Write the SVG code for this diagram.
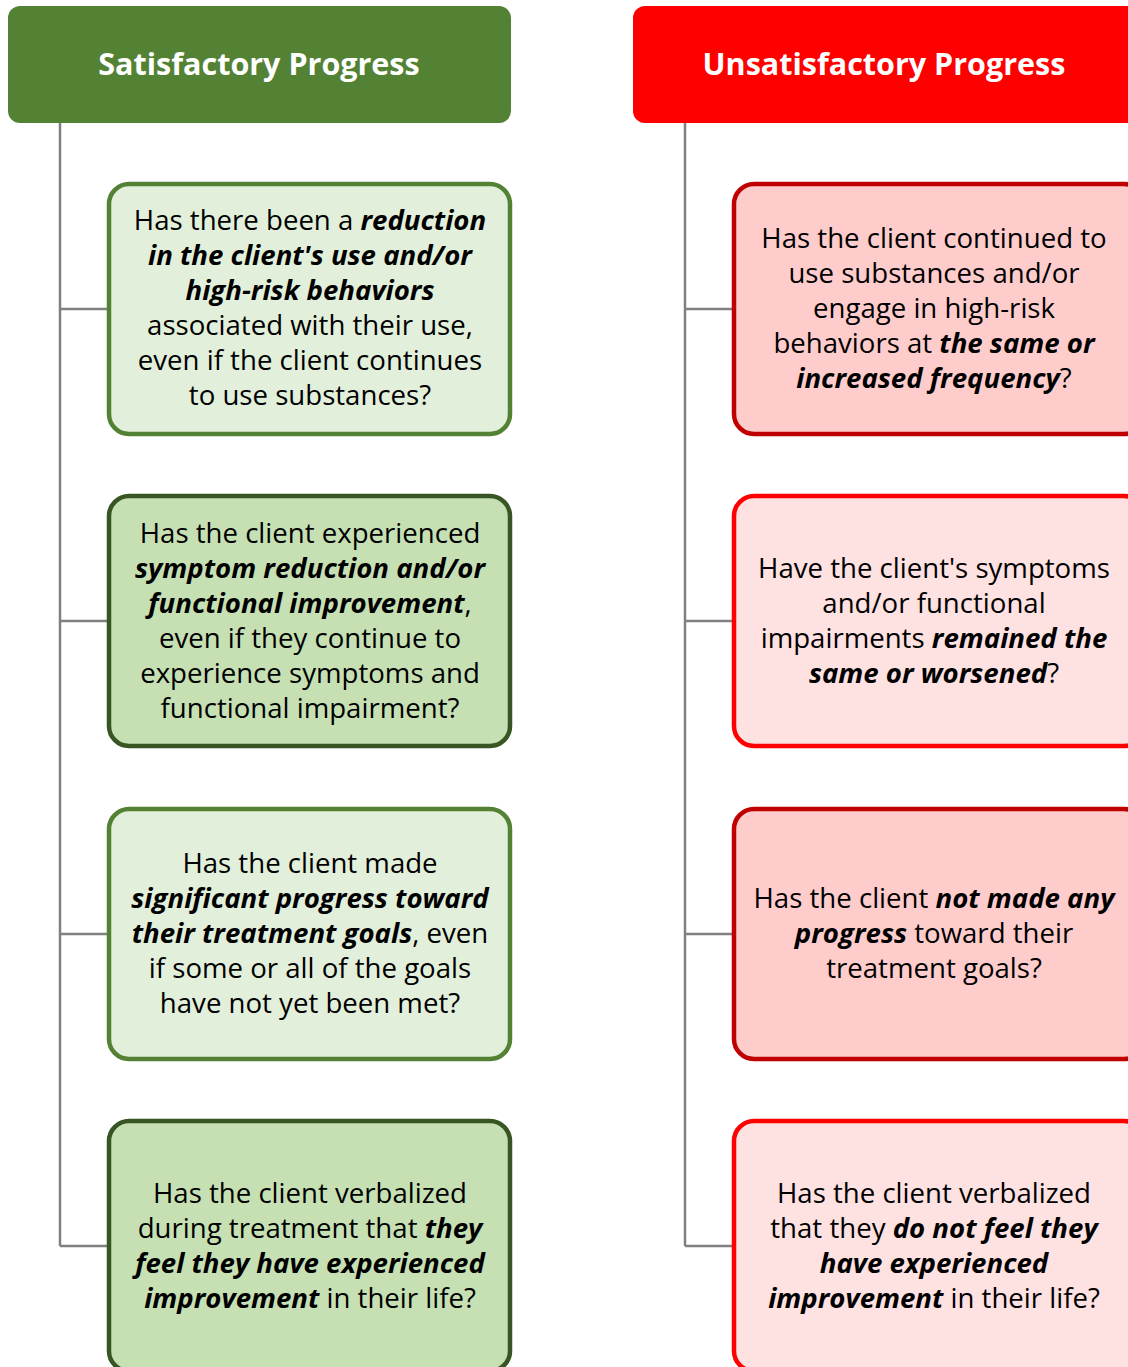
<svg xmlns="http://www.w3.org/2000/svg" width="1128" height="1367" viewBox="0 0 1128 1367">
<style>
.hdr{font-family:"Open Sans","Noto Sans","Liberation Sans",sans-serif;font-weight:bold;font-size:30.5px;fill:#fff;text-anchor:middle}
.t{font-family:"Open Sans","Noto Sans","Liberation Sans",sans-serif;font-size:27.6px;fill:#000;text-anchor:middle}
.b{font-weight:bold;font-style:italic}
.conn{stroke:#808080;stroke-width:2.5;fill:none}
.g1{fill:#E2EFDA;stroke:#548235;stroke-width:4.5}
.g2{fill:#C6E0B4;stroke:#375623;stroke-width:4.5}
.r1{fill:#FFCCCC;stroke:#C00000;stroke-width:4.5}
.r2{fill:#FEE1E1;stroke:#FF0000;stroke-width:4.5}
</style>
<rect width="1128" height="1367" fill="#fff"/>
<g id="connectors">
<path class="conn" d="M60,123 V1246 M60,309 H108 M60,621 H108 M60,934 H108 M60,1246 H108"/>
<path class="conn" d="M685,123 V1246 M685,309 H733 M685,621 H733 M685,934 H733 M685,1246 H733"/>
</g>
<g id="hdr-sat">
<rect x="8" y="6" width="503" height="117" rx="12" fill="#548235"/>
<text class="hdr" x="259" y="75">Satisfactory Progress</text>
</g>
<g id="hdr-unsat">
<rect x="633" y="6" width="510" height="117" rx="12" fill="#FF0000"/>
<text class="hdr" x="884" y="75">Unsatisfactory Progress</text>
</g>
<g id="s1">
<rect class="g1" x="109" y="184" width="401" height="250" rx="20"/>
<text class="t" x="310" y="230">Has there been a <tspan class="b">reduction</tspan></text>
<text class="t b" x="310" y="265">in the client's use and/or</text>
<text class="t b" x="310" y="300">high-risk behaviors</text>
<text class="t" x="310" y="335">associated with their use,</text>
<text class="t" x="310" y="370">even if the client continues</text>
<text class="t" x="310" y="405">to use substances?</text>
</g>
<g id="s2">
<rect class="g2" x="109" y="496" width="401" height="250" rx="20"/>
<text class="t" x="310" y="543">Has the client experienced</text>
<text class="t b" x="310" y="578">symptom reduction and/or</text>
<text class="t" x="310" y="613"><tspan class="b">functional improvement</tspan>,</text>
<text class="t" x="310" y="648">even if they continue to</text>
<text class="t" x="310" y="683">experience symptoms and</text>
<text class="t" x="310" y="718">functional impairment?</text>
</g>
<g id="s3">
<rect class="g1" x="109" y="809" width="401" height="250" rx="20"/>
<text class="t" x="310" y="873">Has the client made</text>
<text class="t b" x="310" y="908">significant progress toward</text>
<text class="t" x="310" y="943"><tspan class="b">their treatment goals</tspan>, even</text>
<text class="t" x="310" y="978">if some or all of the goals</text>
<text class="t" x="310" y="1013">have not yet been met?</text>
</g>
<g id="s4">
<rect class="g2" x="109" y="1121" width="401" height="250" rx="20"/>
<text class="t" x="310" y="1203">Has the client verbalized</text>
<text class="t" x="310" y="1238">during treatment that <tspan class="b">they</tspan></text>
<text class="t b" x="310" y="1273">feel they have experienced</text>
<text class="t" x="310" y="1308"><tspan class="b">improvement</tspan> in their life?</text>
</g>
<g id="u1">
<rect class="r1" x="734" y="184" width="410" height="250" rx="20"/>
<text class="t" x="934" y="248">Has the client continued to</text>
<text class="t" x="934" y="283">use substances and/or</text>
<text class="t" x="934" y="318">engage in high-risk</text>
<text class="t" x="934" y="353">behaviors at <tspan class="b">the same or</tspan></text>
<text class="t" x="934" y="388"><tspan class="b">increased frequency</tspan>?</text>
</g>
<g id="u2">
<rect class="r2" x="734" y="496" width="410" height="250" rx="20"/>
<text class="t" x="934" y="578">Have the client's symptoms</text>
<text class="t" x="934" y="613">and/or functional</text>
<text class="t" x="934" y="648">impairments <tspan class="b">remained the</tspan></text>
<text class="t" x="934" y="683"><tspan class="b">same or worsened</tspan>?</text>
</g>
<g id="u3">
<rect class="r1" x="734" y="809" width="410" height="250" rx="20"/>
<text class="t" x="934" y="908">Has the client <tspan class="b">not made any</tspan></text>
<text class="t" x="934" y="943"><tspan class="b">progress</tspan> toward their</text>
<text class="t" x="934" y="978">treatment goals?</text>
</g>
<g id="u4">
<rect class="r2" x="734" y="1121" width="410" height="250" rx="20"/>
<text class="t" x="934" y="1203">Has the client verbalized</text>
<text class="t" x="934" y="1238">that they <tspan class="b">do not feel they</tspan></text>
<text class="t b" x="934" y="1273">have experienced</text>
<text class="t" x="934" y="1308"><tspan class="b">improvement</tspan> in their life?</text>
</g>
</svg>
